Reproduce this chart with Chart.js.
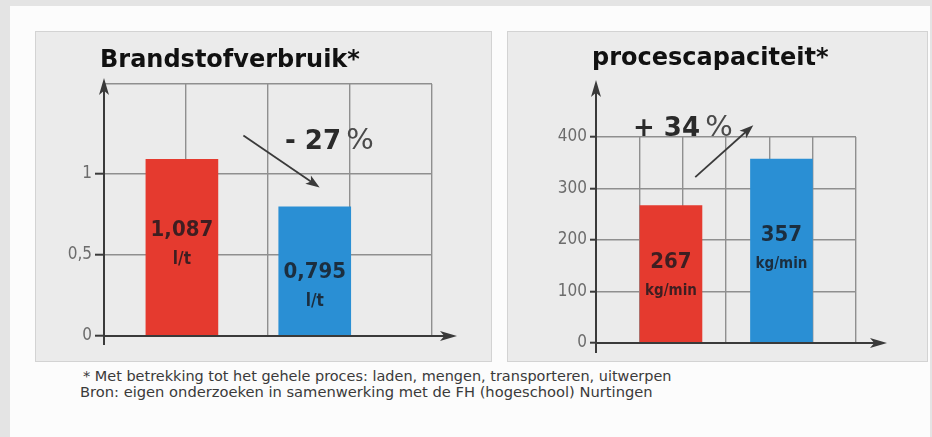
<!DOCTYPE html>
<html>
<head>
<meta charset="utf-8">
<script src="https://cdn.jsdelivr.net/npm/chart.js@4.4.0/dist/chart.umd.min.js"></script>
<style>
  body { margin: 0; width: 932px; height: 437px; background: #e4e4e4; position: relative; overflow: hidden; font-family: "DejaVu Sans", sans-serif; }
  .sheet { position: absolute; left: 10px; top: 6px; width: 920px; height: 440px; background: #fcfcfc; }
  .panel { position: absolute; box-sizing: border-box; background: #ebebeb; border: 1px solid #d3d3d3; }
  canvas { position: absolute; }
  .title { position: absolute; font: bold 24px "DejaVu Sans", sans-serif; color: #111; white-space: nowrap; line-height: 1; }
  .pct { position: absolute; white-space: nowrap; line-height: 1; color: #2a2a2a; }
  .pct b { font: bold 26px "DejaVu Sans", sans-serif; }
  .pct span { font: 29px "DejaVu Sans", sans-serif; color: #4a4a4a; }
  .note { position: absolute; font: 13.5px "DejaVu Sans Condensed", "Liberation Sans Narrow", sans-serif; color: #3a3a3a; white-space: nowrap; line-height: 1; transform-origin: 0 0; }
</style>
</head>
<body>
<div class="sheet"></div>
<div class="panel" style="left:35px; top:31px; width:457px; height:331px;"></div>
<div class="panel" style="left:507px; top:31px; width:421px; height:331px;"></div>

<canvas id="fuelChart" width="457" height="330" style="left:35px; top:31px;"></canvas>
<canvas id="capChart" width="421" height="330" style="left:507px; top:31px;"></canvas>

<div class="title" style="left:100px; top:47px;">Brandstofverbruik*</div>
<div class="title" style="left:592px; top:45px;">procescapaciteit*</div>

<div class="pct" style="left:285px; top:122px;"><b>- 27</b> <span>%</span></div>
<div class="pct" style="left:633px; top:109px;"><b>+ 34</b> <span>%</span></div>

<div class="note" id="note1" style="left:83px; top:370px;">* Met betrekking tot het gehele proces: laden, mengen, transporteren, uitwerpen</div>
<div class="note" id="note2" style="left:80px; top:386px;">Bron: eigen onderzoeken in samenwerking met de FH (hogeschool) Nurtingen</div>

<script>
// --- data ---
const fuelCategories = ['standaard', 'nieuw'];
const fuelValues = [1.087, 0.795];
const fuelValueLabels = ['1,087', '0,795'];
const fuelUnit = 'l/t';
const fuelTicks = [0, 0.5, 1];

const capCategories = ['standaard', 'nieuw'];
const capValues = [267, 357];
const capValueLabels = ['267', '357'];
const capUnit = 'kg/min';
const capTicks = [0, 100, 200, 300, 400];

// where the bars sit on the (unlabelled) x grid, and where their text sits
const fuelSlots = [0.95, 2.57];
const capSlots = [1.73, 4.28];
const fuelLabelAt = [0.65, 0.393];
const capLabelAt = [157, 210];

const RED = '#e53a2f';
const BLUE = '#2a8fd4';
const AXIS = '#3a3a3a';
const GRID = '#8f8f8f';

function arrowHead(ctx, x, y, angle, len, half) {
    ctx.save();
    ctx.translate(x, y);
    ctx.rotate(angle);
    ctx.beginPath();
    ctx.moveTo(0, 0);
    ctx.lineTo(-len, -half);
    ctx.lineTo(-len * 0.75, 0);
    ctx.lineTo(-len, half);
    ctx.closePath();
    ctx.fill();
    ctx.restore();
}

const decor = {
    id: 'decor',
    afterDatasetsDraw(chart, args, opts) {
        const ctx = chart.ctx;
        const area = chart.chartArea;
        const xs = chart.scales.x, ys = chart.scales.y;
        const zeroY = ys.getPixelForValue(0);
        ctx.save();
        ctx.strokeStyle = AXIS;
        ctx.fillStyle = AXIS;
        ctx.lineWidth = 2;
        // y axis with arrow
        const yTip = area.top - opts.yOver;
        ctx.beginPath();
        ctx.moveTo(area.left, zeroY + opts.yUnder);
        ctx.lineTo(area.left, yTip + 10);
        ctx.stroke();
        arrowHead(ctx, area.left, yTip, -Math.PI / 2, 17, 5);
        // x axis with arrow
        const xTip = area.right + opts.xOver;
        ctx.beginPath();
        ctx.moveTo(area.left, zeroY);
        ctx.lineTo(xTip - 10, zeroY);
        ctx.stroke();
        arrowHead(ctx, xTip, zeroY, 0, 17, 5);

        // trend arrow
        const a = opts.trend;
        const x1 = xs.getPixelForValue(a[0]), y1 = ys.getPixelForValue(a[1]);
        const x2 = xs.getPixelForValue(a[2]), y2 = ys.getPixelForValue(a[3]);
        const ang = Math.atan2(y2 - y1, x2 - x1);
        ctx.lineWidth = 1.8;
        ctx.beginPath();
        ctx.moveTo(x1, y1);
        ctx.lineTo(x2 - Math.cos(ang) * 8, y2 - Math.sin(ang) * 8);
        ctx.stroke();
        arrowHead(ctx, x2, y2, ang, 14, 5);

        // bar texts
        const meta = chart.getDatasetMeta(0);
        ctx.fillStyle = 'rgba(25,25,30,0.82)';
        ctx.textAlign = 'center';
        ctx.textBaseline = 'middle';
        meta.data.forEach((bar, i) => {
            const y = ys.getPixelForValue(opts.labelAt[i]);
            ctx.font = 'bold 22px "DejaVu Sans Condensed", "DejaVu Sans", sans-serif';
            ctx.fillText(opts.valueLabels[i], bar.x, y);
            ctx.font = 'bold ' + opts.unitSize + 'px "DejaVu Sans Condensed", "DejaVu Sans", sans-serif';
            ctx.fillText(opts.unit, bar.x, y + 29);
        });
        ctx.restore();
    }
};

function makeChart(id, o) {
    const topValue = o.yMax;
    return new Chart(document.getElementById(id), {
        type: 'bar',
        data: {
            datasets: [{
                label: id,
                data: o.slots.map((x, i) => ({ x: x, y: o.values[i], c: o.categories[i] })),
                backgroundColor: [RED, BLUE],
                borderWidth: 0,
                barThickness: o.barWidth
            }]
        },
        options: {
            responsive: false,
            animation: false,
            layout: { padding: o.padding },
            plugins: {
                legend: { display: false },
                tooltip: { enabled: false },
                decor: o.decor
            },
            scales: {
                x: {
                    type: 'linear',
                    min: 0,
                    max: o.xMax,
                    offset: false,
                    ticks: { display: false, stepSize: 1 },
                    grid: { color: GRID, lineWidth: 1.4, drawTicks: false, offset: false },
                    border: { display: false },
                    afterFit: s => { s.height = o.xHeight; }
                },
                y: {
                    min: 0,
                    max: topValue,
                    afterBuildTicks: s => {
                        const t = o.ticks.slice();
                        if (t[t.length - 1] !== topValue) t.push(topValue);
                        s.ticks = t.map(v => ({ value: v }));
                    },
                    ticks: {
                        padding: 3,
                        color: '#6c6c6c',
                        font: { family: '"DejaVu Sans Condensed", "DejaVu Sans", sans-serif', size: 17 },
                        callback: v => o.ticks.includes(v) ? String(v).replace('.', ',') : ''
                    },
                    grid: {
                        color: GRID,
                        lineWidth: 1.4,
                        tickLength: o.tickLength,
                        tickWidth: 2,
                        tickColor: c => (c.tick && o.ticks.includes(c.tick.value)) ? AXIS : 'rgba(0,0,0,0)'
                    },
                    border: { display: false },
                    afterFit: s => { s.width = o.yWidth; }
                }
            }
        },
        plugins: [decor]
    });
}

makeChart('fuelChart', {
    categories: fuelCategories,
    values: fuelValues,
    slots: fuelSlots,
    ticks: fuelTicks,
    yMax: 1.55,
    xMax: 4,
    barWidth: 72,
    padding: { left: 0, top: 53, right: 60, bottom: 0 },
    yWidth: 69,
    xHeight: 25,
    tickLength: 9,
    decor: {
        yOver: 6, yUnder: 9, xOver: 25,
        trend: [1.70, 1.233, 2.63, 0.914],
        labelAt: fuelLabelAt,
        valueLabels: fuelValueLabels,
        unit: fuelUnit,
        unitSize: 17
    }
});

makeChart('capChart', {
    categories: capCategories,
    values: capValues,
    slots: capSlots,
    ticks: capTicks,
    yMax: 400,
    xMax: 6,
    barWidth: 62,
    padding: { left: 0, top: 106, right: 72, bottom: 0 },
    yWidth: 89,
    xHeight: 18,
    tickLength: 6,
    decor: {
        yOver: 57, yUnder: 10, xOver: 31,
        trend: [2.29, 322, 3.63, 423],
        labelAt: capLabelAt,
        valueLabels: capValueLabels,
        unit: capUnit,
        unitSize: 15
    }
});

// squeeze the footnote lines to the width they have in the print
[['note1', 589], ['note2', 573]].forEach(([id, w]) => {
    const el = document.getElementById(id);
    el.style.transform = 'scaleX(' + (w / el.offsetWidth) + ')';
});
</script>
</body>
</html>
